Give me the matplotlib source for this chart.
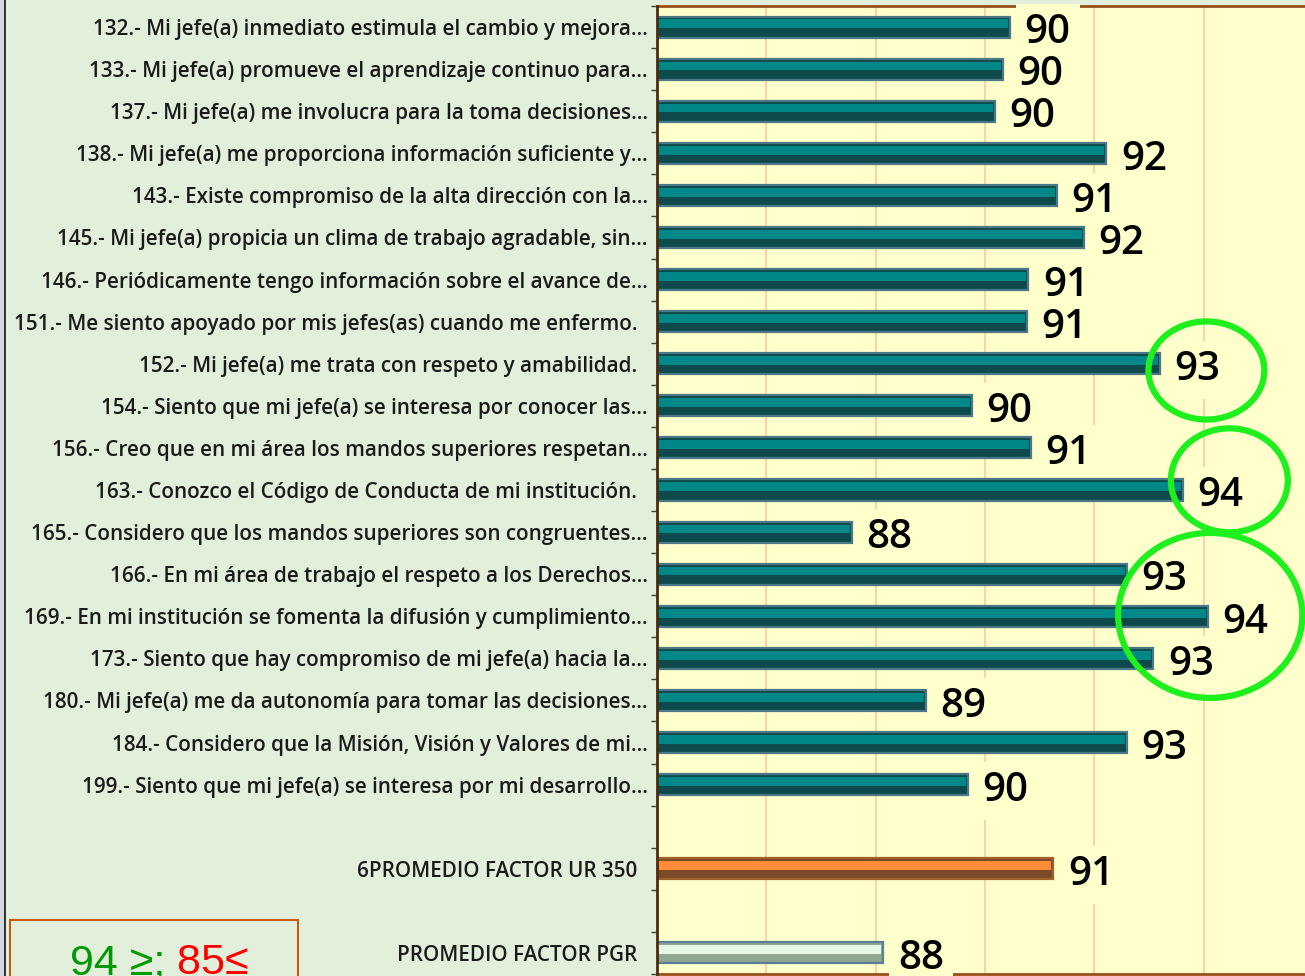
import matplotlib
matplotlib.use("Agg")
import matplotlib.pyplot as plt
from matplotlib.patches import Ellipse, Rectangle
from matplotlib.lines import Line2D
import numpy as np

# ---------------- data ----------------
categories = [
    "132.- Mi jefe(a) inmediato estimula el cambio y mejora…",
    "133.- Mi jefe(a) promueve el aprendizaje continuo para…",
    "137.- Mi jefe(a) me involucra para la toma decisiones…",
    "138.- Mi jefe(a) me proporciona información suficiente y…",
    "143.- Existe compromiso de la alta dirección con la…",
    "145.- Mi jefe(a) propicia un clima de trabajo agradable, sin…",
    "146.- Periódicamente tengo información sobre el avance de…",
    "151.- Me siento apoyado por mis jefes(as) cuando me enfermo.  ",
    "152.- Mi jefe(a) me trata con respeto y amabilidad.  ",
    "154.- Siento que mi jefe(a) se interesa por conocer las…",
    "156.- Creo que en mi área los mandos superiores respetan…",
    "163.- Conozco el Código de Conducta de mi institución.  ",
    "165.- Considero que los mandos superiores son congruentes…",
    "166.- En mi área de trabajo el respeto a los Derechos…",
    "169.- En mi institución se fomenta la difusión y cumplimiento…",
    "173.- Siento que hay compromiso de mi jefe(a) hacia la…",
    "180.- Mi jefe(a) me da autonomía para tomar las decisiones…",
    "184.- Considero que la Misión, Visión y Valores de mi…",
    "199.- Siento que mi jefe(a) se interesa por mi desarrollo…",
]
values = [90.46, 90.33, 90.18, 92.22, 91.32, 91.81, 90.79, 90.77, 93.20,
          89.76, 90.84, 93.62, 87.57, 92.60, 94.08, 93.08, 88.92, 92.60, 89.69]

ur_label = "6PROMEDIO FACTOR UR 350  "
ur_value = 91.25
pgr_label = "PROMEDIO FACTOR PGR  "
pgr_value = 88.14

# highlight ellipses (x centre, y centre, width, height) in data units
highlights = [(94.05, 8.16, 2.12, 2.33),
              (94.47, 10.77, 2.14, 2.47),
              (94.12, 13.98, 3.37, 3.92)]

legend_green = "94 ≥;"
legend_red = " 85≤"

x_min, x_max = 84, 96
grid_ticks = [86, 88, 90, 92, 94]

# ---------------- style ----------------
W, H = 1305, 976
panel_bg = "#E2EFDA"
plot_bg = "#FFFFCC"
grid_c = "#FBD3A8"

fig = plt.figure(figsize=(W / 100, H / 100), dpi=100, facecolor=panel_bg)
ax = fig.add_axes([657 / W, (H - 974) / H, 656 / W, 968 / H])
ax.set_facecolor(plot_bg)

n_slots = len(categories) + 4
ypos_items = list(range(len(categories)))
y_ur = len(categories) + 1
y_pgr = len(categories) + 3

labels = [""] * n_slots
for i, c in enumerate(categories):
    labels[i] = c
labels[y_ur] = ur_label
labels[y_pgr] = pgr_label

def bevel_bar(y, v, dark, mid, edge):
    ax.barh(y, v, height=0.5, color=dark, edgecolor=edge, linewidth=1.6, zorder=4)
    ax.barh(y - 0.075, v - 0.04, height=0.21, color=mid, linewidth=0, zorder=4.1)

for y, v in zip(ypos_items, values):
    bevel_bar(y, v, "#0E4A4C", "#008788", "#4A7886")
bevel_bar(y_ur, ur_value, "#7B4A26", "#FF8C38", "#A0602A")
bevel_bar(y_pgr, pgr_value, "#8FA88F", "#E4F8E4", "#5B7F9A")

all_y = ypos_items + [y_ur, y_pgr]
all_v = values + [ur_value, pgr_value]
for y, v in zip(all_y, all_v):
    ax.annotate(f"{round(v)}", xy=(v, y), xytext=(10.5, -4.5), textcoords="offset points",
                ha="left", va="center", fontsize=29, family="Open Sans", weight="semibold",
                color="black", zorder=3.5, annotation_clip=False,
                bbox=dict(boxstyle="square,pad=0.22", facecolor=plot_bg, edgecolor="none"))

for (cx, cy, w, h) in highlights:
    ax.add_patch(Ellipse((cx, cy), w, h, fill=False, edgecolor="#1EF01E",
                         linewidth=4.5, zorder=7, clip_on=False))

ax.set_xlim(x_min, x_max)
ax.set_ylim(n_slots - 0.5, -0.5)
ax.set_xticks(grid_ticks)
ax.set_xticklabels([])
ax.tick_params(axis="x", length=0)
ax.grid(axis="x", color=grid_c, linewidth=1.5, zorder=0)
ax.set_axisbelow(True)

ax.set_yticks(range(n_slots))
ax.set_yticklabels(labels, fontsize=14.85, family="Open Sans", weight="semibold", color="#1A1A1A")
ax.set_yticks(np.arange(-0.5, n_slots, 1), minor=True)
ax.tick_params(axis="y", which="major", length=0, pad=6.5)
ax.tick_params(axis="y", which="minor", length=4, width=1, color="#404040", direction="out")

for s in ["top", "bottom"]:
    ax.spines[s].set_color("#9A4E1C")
    ax.spines[s].set_linewidth(2)
    ax.spines[s].set_zorder(3)
ax.spines["left"].set_color("#4A2A10")
ax.spines["left"].set_linewidth(2)
ax.spines["left"].set_zorder(5)
ax.spines["right"].set_visible(False)

# left edge strip
fig.patches.append(Rectangle((0, 0), 5 / W, 1, transform=fig.transFigure,
                             facecolor="#D3D8DE", edgecolor="none", zorder=0))
fig.lines.append(Line2D([5.5 / W, 5.5 / W], [0, 1], transform=fig.transFigure,
                        color="#111111", linewidth=1.2))

# legend box at bottom left
fig.patches.append(Rectangle((10 / W, -0.02), 288 / W, (H - 920) / H + 0.02,
                             transform=fig.transFigure, facecolor=panel_bg,
                             edgecolor="#C55A11", linewidth=1.5, zorder=1))
t1 = fig.text(70 / W, 2 / H, legend_green, fontsize=31, family="Liberation Sans",
              color="#009A00", ha="left", va="baseline", zorder=3)
fig.canvas.draw()
bb = t1.get_window_extent()
fig.text(bb.x1 / W, 2 / H, legend_red, fontsize=31, family="Liberation Sans",
         color="#FF0000", ha="left", va="baseline", zorder=3)

fig.savefig("out.png", dpi=100, facecolor=panel_bg)
